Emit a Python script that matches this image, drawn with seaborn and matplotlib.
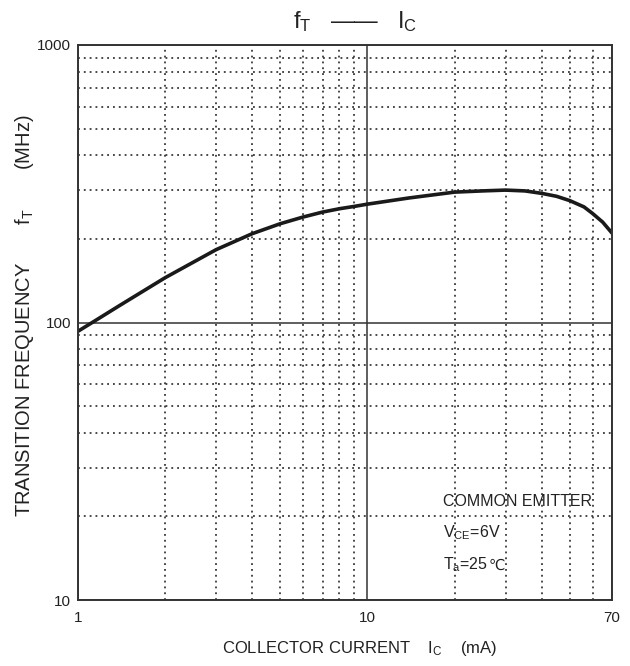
import numpy as np
import pandas as pd
import matplotlib
matplotlib.use("Agg")
import matplotlib.pyplot as plt
import seaborn as sns
from matplotlib.ticker import FixedLocator, NullFormatter

# Data
collector_current_mA = [1.0, 1.12, 1.39, 2.0, 3.0, 4.0, 5.0, 6.0, 7.0, 8.0, 9.0, 10.0,
                        13.9, 20.0, 25.0, 30.0, 35.0, 40.0, 45.0, 50.0, 56.0, 60.0, 65.0, 70.0]
transition_freq_MHz = [93, 100, 115, 145, 183, 209, 227, 240, 250, 257, 262, 267,
                       281, 295, 298, 300, 298, 292, 285, 275, 261, 247, 230, 210]

x_ticks = [1, 10, 70]
x_tick_labels = ["1", "10", "70"]
y_ticks = [10, 100, 1000]
y_tick_labels = ["10", "100", "1000"]
minor_x = [2, 3, 4, 5, 6, 7, 8, 9, 20, 30, 40, 50, 60]
minor_y = [20, 30, 40, 50, 60, 70, 80, 90, 200, 300, 400, 500, 600, 700, 800, 900]

sns.set_style("white")
fam = ["Liberation Sans", "DejaVu Sans"]
plt.rcParams["font.family"] = fam
plt.rcParams["mathtext.fontset"] = "custom"
plt.rcParams["mathtext.rm"] = "Liberation Sans"
plt.rcParams["mathtext.it"] = "Liberation Sans"
plt.rcParams["mathtext.bf"] = "Liberation Sans"

ink = "#222222"
W, H = 630, 666
fig = plt.figure(figsize=(W / 100, H / 100), dpi=100)
ax = fig.add_axes([78 / W, 1 - 600 / H, (612 - 78) / W, (600 - 45) / H])

df = pd.DataFrame({"Ic": collector_current_mA, "fT": transition_freq_MHz})
sns.lineplot(data=df, x="Ic", y="fT", ax=ax, color="#1a1a1a", linewidth=2.6, sort=False)

ax.set_xscale("log")
ax.set_yscale("log")
ax.set_xlim(1, 70)
ax.set_ylim(10, 1000)

ax.xaxis.set_major_locator(FixedLocator(x_ticks))
ax.set_xticklabels(x_tick_labels)
ax.yaxis.set_major_locator(FixedLocator(y_ticks))
ax.set_yticklabels(y_tick_labels)
ax.xaxis.set_minor_locator(FixedLocator(minor_x))
ax.yaxis.set_minor_locator(FixedLocator(minor_y))
ax.xaxis.set_minor_formatter(NullFormatter())
ax.yaxis.set_minor_formatter(NullFormatter())

ax.grid(which="major", color="#333333", linestyle="-", linewidth=1.1)
ax.grid(which="minor", color="#2a2a2a", linestyle=(0, (1.1, 2.4)), linewidth=1.2)
ax.tick_params(which="both", length=0, labelsize=11, colors=ink)
ax.tick_params(axis="x", pad=8)
ax.tick_params(axis="y", pad=5)
ax.set_xlabel("")
ax.set_ylabel("")
for s in ax.spines.values():
    s.set_color("#333333")
    s.set_linewidth(1.4)

# title
fig.text(355 / W, 1 - 22 / H, r"f$_{\rm T}$   ——   I$_{\rm C}$", fontsize=17, color=ink,
         ha="center", va="center")
# x label
fig.text(360 / W, 1 - 649 / H, r"COLLECTOR CURRENT    I$_{\rm C}$    (mA)", fontsize=12,
         color=ink, ha="center", va="center")
# y label
fig.text(25 / W, 1 - 316 / H, r"TRANSITION FREQUENCY       f$_{\rm T}$       (MHz)", fontsize=14.5,
         color=ink, ha="center", va="center", rotation=90)

txt_kw = dict(fontsize=11.5, color=ink, ha="left", va="center")
fig.text(443 / W, 1 - 501 / H, "COMMON EMITTER", **txt_kw)
fig.text(443 / W, 1 - 533 / H, r"V$_{\rm CE}$=6V", **txt_kw)
t_a = fig.text(443 / W, 1 - 565 / H, r"T$_{\rm a}$=25", **txt_kw)
fig.canvas.draw()
bb = t_a.get_window_extent()
fig.text(bb.x1 / W + 0.5 / W, 1 - 565 / H, "℃", fontsize=10.5, color=ink,
         ha="left", va="center", family=["DejaVu Sans"])

fig.savefig("out.png", dpi=100)
